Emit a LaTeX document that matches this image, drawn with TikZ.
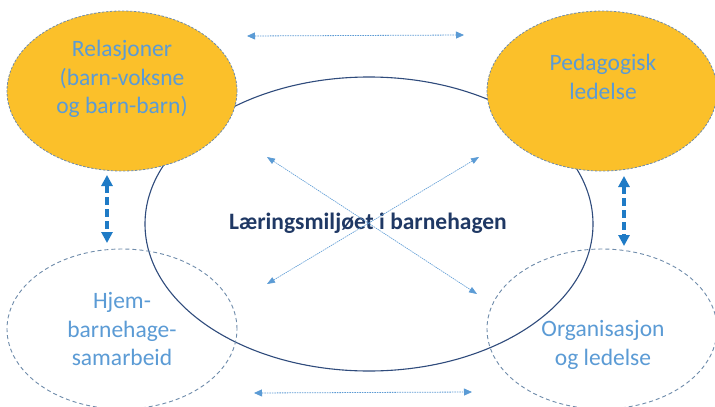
\documentclass[tikz,border=0pt]{standalone}
\usepackage{fontspec}
\setmainfont{Carlito}
\usetikzlibrary{shapes.geometric,arrows.meta}
\definecolor{orng}{HTML}{FBC02A}
\definecolor{lblue}{HTML}{5B9BD5}
\definecolor{navy}{HTML}{1F3864}
\definecolor{ringc}{HTML}{2F4B7C}
\definecolor{dashc}{HTML}{6F8CAB}
\definecolor{thickc}{HTML}{1F7BC6}
\begin{document}
\begin{tikzpicture}[x=1pt,y=-1pt,
  oval/.style={ellipse,inner sep=0pt,minimum width=230pt,minimum height=160pt},
  filledoval/.style={oval,fill=orng,draw=dashc,line width=0.8pt,dash pattern=on 2.5pt off 1.5pt},
  openoval/.style={oval,draw=dashc,line width=0.9pt,dash pattern=on 4pt off 3pt},
  bigring/.style={ellipse,inner sep=0pt,minimum width=448pt,minimum height=294pt,draw=ringc,line width=1.1pt},
  ovaltext/.style={text=lblue,font=\fontsize{23.5}{28.5}\selectfont,align=center,inner sep=0pt},
  maintext/.style={text=navy,font=\fontsize{23.5}{28}\selectfont\bfseries,inner sep=0pt},
  thinarrow/.style={draw=lblue,line width=0.8pt,dash pattern=on 1.5pt off 1pt,{Triangle[length=8pt,width=7pt]}-{Triangle[length=8pt,width=7pt]}},
  diagarrow/.style={draw=lblue,line width=0.6pt,dash pattern=on 1.5pt off 0.8pt,{Triangle[length=8pt,width=6pt]}-{Triangle[length=8pt,width=6pt]}},
  thickarrow/.style={draw=thickc,line width=3.2pt,dash pattern=on 8pt off 4pt,{Triangle[length=11pt,width=11pt]}-{Triangle[length=11pt,width=11pt]}}
]
\useasboundingbox (0,0) rectangle (715,407);
\fill[white] (0,0) rectangle (715,407);
% big ring
\node[bigring] (ring) at (369,224) {};
% ellipses
\node[filledoval] (rel) at (122,91) {};
\node[filledoval] (ped) at (602,91) {};
\node[openoval] (hjem) at (122,329) {};
\node[openoval] (org) at (602,329) {};
% texts
\node[ovaltext] (reltxt) at (122,79) {Relasjoner\\(barn-voksne\\og barn-barn)};
\node[ovaltext] (pedtxt) at (603,77) {Pedagogisk\\ledelse};
\node[ovaltext] (hjemtxt) at (122,329) {Hjem-\\barnehage-\\samarbeid};
\node[ovaltext] (orgtxt) at (603,345) {Organisasjon\\og ledelse};
\node[maintext] (main) at (368,223) {Læringsmiljøet i barnehagen};
% arrow end points
\coordinate (tl) at (247,36);
\coordinate (tr) at (464,35);
\coordinate (bl) at (254,393);
\coordinate (br) at (472,392);
\coordinate (d1a) at (267,157);
\coordinate (d1b) at (477,294);
\coordinate (d2a) at (479,157);
\coordinate (d2b) at (267,284);
\coordinate (vl1) at (107,175);
\coordinate (vl2) at (107,243);
\coordinate (vr1) at (624,176);
\coordinate (vr2) at (624,246);
% arrows
\draw[thinarrow] (tl) -- (tr);
\draw[thinarrow] (bl) -- (br);
\draw[diagarrow] (d1a) -- (d1b);
\draw[diagarrow] (d2a) -- (d2b);
\draw[thickarrow] (vl1) -- (vl2);
\draw[thickarrow] (vr1) -- (vr2);
\end{tikzpicture}
\end{document}
